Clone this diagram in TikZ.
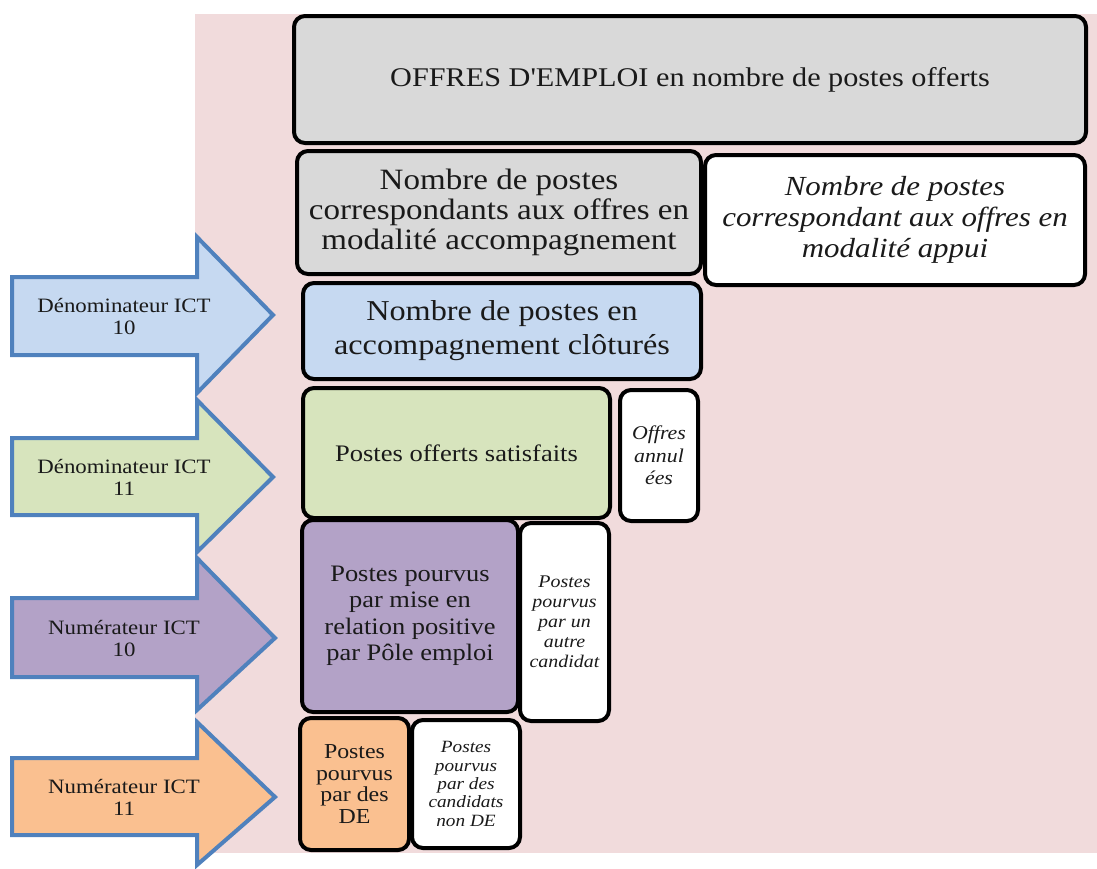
\documentclass[tikz,border=0pt]{standalone}
\usepackage{fontspec}
\setmainfont[FakeStretch=1.12,Ligatures=TeXOff]{Liberation Serif}
\definecolor{pinkbg}{HTML}{F1DBDC}
\definecolor{grayf}{HTML}{D9D9D9}
\definecolor{bluef}{HTML}{C6D9F1}
\definecolor{greenf}{HTML}{D7E4BD}
\definecolor{purplef}{HTML}{B3A2C7}
\definecolor{orangef}{HTML}{FAC090}
\definecolor{arrowline}{HTML}{4F81BD}
\definecolor{txt}{HTML}{1A1A1A}
\tikzset{
  box/.style={draw=black, line width=4pt, rounded corners=11pt, align=center, text=txt, inner sep=2pt},
  bigarrow/.style={draw=arrowline, line width=4pt, line join=miter},
  arrowtext/.style={align=center, text=txt, font=\fontsize{20.4}{22}\selectfont},
}
\begin{document}
\begin{tikzpicture}[x=1pt,y=-1pt]
\useasboundingbox (0,0) rectangle (1097,868);
\fill[pinkbg] (195,14) rectangle (1097,853);

% boxes
\node[box, fill=grayf, minimum width=792, minimum height=127, font=\fontsize{27}{32}\selectfont] (offres) at (690,79.5) {OFFRES D'EMPLOI en nombre de postes offerts};
\node[box, fill=grayf, minimum width=404, minimum height=123, font=\fontsize{29.5}{30}\selectfont] (accomp) at (499,212.5) {Nombre de postes\\correspondants aux offres en\\modalité accompagnement};
\node[box, fill=white, minimum width=380, minimum height=130, font=\fontsize{27.6}{31}\selectfont\itshape] (appui) at (895,220) {Nombre de postes\\correspondant aux offres en\\modalité appui};
\node[box, fill=bluef, minimum width=398, minimum height=96, font=\fontsize{28.8}{34}\selectfont] (clot) at (502,331) {Nombre de postes en\\accompagnement clôturés};
\node[box, fill=greenf, minimum width=307, minimum height=130, font=\fontsize{23.7}{26}\selectfont] (satis) at (456.5,453) {Postes offerts satisfaits};
\node[box, fill=white, minimum width=78, minimum height=131, font=\fontsize{19.5}{22.5}\selectfont\itshape] (annul) at (659,455.5) {Offres\\annul\\ées};
\node[box, fill=purplef, minimum width=216, minimum height=192, font=\fontsize{23.6}{26.5}\selectfont] (pourvus) at (410,616) {Postes pourvus\\par mise en\\relation positive\\par Pôle emploi};
\node[box, fill=white, minimum width=89, minimum height=198, font=\fontsize{17.8}{20}\selectfont\itshape] (autre) at (564.5,622) {Postes\\pourvus\\par un\\autre\\candidat};
\node[box, fill=orangef, minimum width=109, minimum height=132, font=\fontsize{21.3}{21.7}\selectfont] (de) at (354.5,784) {Postes\\pourvus\\par des\\DE};
\node[box, fill=white, minimum width=108, minimum height=128, font=\fontsize{17.2}{18.3}\selectfont\itshape] (nonde) at (466,784) {Postes\\pourvus\\par des\\candidats\\non DE};

% arrows
\draw[bigarrow, fill=bluef] (12,277) -- (197,277) -- (197,237) -- (273,315) -- (197,393) -- (197,355) -- (12,355) -- cycle;
\node[arrowtext] (d10) at (124,316) {Dénominateur ICT\\10};
\draw[bigarrow, fill=greenf] (12,438) -- (197,438) -- (197,400) -- (273,477) -- (197,552) -- (197,515) -- (12,515) -- cycle;
\node[arrowtext] (d11) at (124,477) {Dénominateur ICT\\11};
\draw[bigarrow, fill=purplef] (12,598) -- (197,598) -- (197,558) -- (275,638) -- (197,710) -- (197,677) -- (12,677) -- cycle;
\node[arrowtext] (n10) at (124,638) {Numérateur ICT\\10};
\draw[bigarrow, fill=orangef] (12,758) -- (197,758) -- (197,722) -- (275,797) -- (197,865) -- (197,835) -- (12,835) -- cycle;
\node[arrowtext] (n11) at (124,797) {Numérateur ICT\\11};
\end{tikzpicture}
\end{document}
